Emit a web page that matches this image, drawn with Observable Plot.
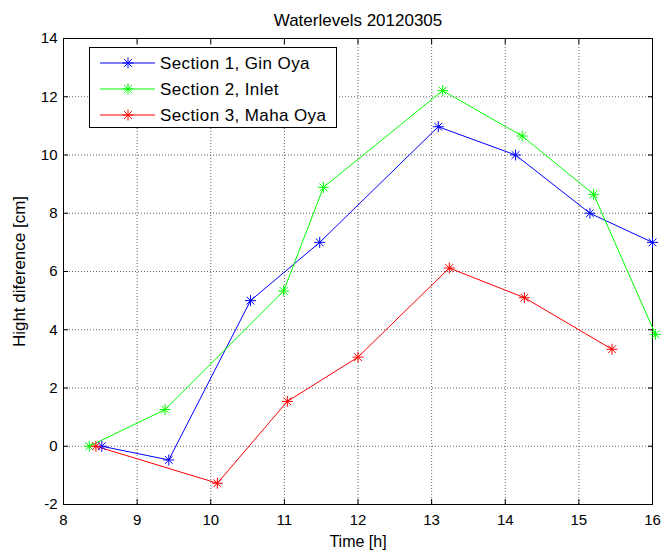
<!DOCTYPE html>
<html>
<head>
<meta charset="utf-8">
<script src="https://cdn.jsdelivr.net/npm/d3@7"></script>
<script src="https://cdn.jsdelivr.net/npm/@observablehq/plot@0.6"></script>
<style>
  html, body { margin: 0; padding: 0; background: #fff; }
  #wrap { position: relative; width: 663px; height: 551px; font-family: "Liberation Sans", Arial, sans-serif; }
  #legend { position: absolute; left: 89px; top: 47px; }
</style>
</head>
<body>
<div id="wrap"></div>
<script>
const title = "Waterlevels 20120305";
const xLabel = "Time [h]";
const yLabel = "Hight diference [cm]";
const seriesNames = ["Section 1, Gin Oya", "Section 2, Inlet", "Section 3, Maha Oya"];
const seriesColors = ["#0000ff", "#00ff00", "#ff0000"];
const xTicks = [8, 9, 10, 11, 12, 13, 14, 15, 16];
const yTicks = [-2, 0, 2, 4, 6, 8, 10, 12, 14];

const time1 = [8.52, 9.43, 10.54, 11.48, 13.09, 14.14, 15.15, 16.0];
const level1 = [0, -0.47, 5.0, 7.0, 10.97, 10.0, 8.0, 7.0];
const time2 = [8.35, 9.38, 10.99, 11.53, 13.15, 14.23, 15.2, 16.04];
const level2 = [0, 1.26, 5.33, 8.89, 12.21, 10.65, 8.65, 3.84];
const time3 = [8.44, 10.09, 11.04, 12.0, 13.24, 14.26, 15.45];
const level3 = [0, -1.27, 1.54, 3.06, 6.12, 5.1, 3.33];

const times = [time1, time2, time3];
const levels = [level1, level2, level3];
const data = seriesNames.flatMap((s, i) => times[i].map((t, j) => ({series: s, time: t, level: levels[i][j]})));

// MATLAB-style '*' marker: 8-armed asterisk
const star = {
  draw(ctx, size) {
    const r = Math.sqrt(size / Math.PI);
    for (let i = 0; i < 4; i++) {
      const a = i * Math.PI / 4;
      const dx = r * Math.cos(a), dy = r * Math.sin(a);
      ctx.moveTo(-dx, -dy);
      ctx.lineTo(dx, dy);
    }
  }
};

const font = "Liberation Sans, Arial, sans-serif";

const chart = Plot.plot({
  width: 663,
  height: 551,
  marginLeft: 63,
  marginRight: 11,
  marginTop: 38,
  marginBottom: 47,
  style: {fontFamily: font, fontSize: "15px", color: "#000", background: "#fff", overflow: "visible"},
  x: {domain: [8, 16]},
  y: {domain: [-2, 14]},
  color: {domain: seriesNames, range: seriesColors},
  marks: [
    Plot.gridX(xTicks, {stroke: "#000", strokeOpacity: 0.6, strokeDasharray: "1,2"}),
    Plot.gridY(yTicks, {stroke: "#000", strokeOpacity: 0.6, strokeDasharray: "1,2"}),
    Plot.axisX(xTicks, {anchor: "bottom", tickSize: 0, tickPadding: 10, label: null, fontSize: 15, tickFormat: d => String(d)}),
    Plot.axisY(yTicks, {anchor: "left", tickSize: 0, tickPadding: 6, label: null, fontSize: 15, tickFormat: d => String(d)}),
    Plot.axisX(xTicks, {anchor: "bottom", tickSize: -5, fill: "none", label: null}),
    Plot.axisX(xTicks, {anchor: "top", tickSize: -5, fill: "none", label: null}),
    Plot.axisY(yTicks, {anchor: "left", tickSize: -5, fill: "none", label: null}),
    Plot.axisY(yTicks, {anchor: "right", tickSize: -5, fill: "none", label: null}),
    Plot.frame({stroke: "#000"}),
    Plot.line(data, {x: "time", y: "level", z: "series", stroke: "series", strokeWidth: 1}),
    Plot.dot(data, {x: "time", y: "level", stroke: "series", symbol: star, r: 5.5, fill: "none", strokeWidth: 1}),
    Plot.text([title], {text: d => d, frameAnchor: "top", lineAnchor: "middle", textAnchor: "middle", dy: -18, fontSize: 17, fill: "#000", style: {letterSpacing: "0.5px"}}),
    Plot.text([xLabel], {text: d => d, frameAnchor: "bottom", lineAnchor: "middle", textAnchor: "middle", dy: 37, fontSize: 16, fill: "#000"}),
    Plot.text([yLabel], {text: d => d, frameAnchor: "left", lineAnchor: "middle", textAnchor: "middle", dx: -44, rotate: -90, fontSize: 17, fill: "#000"})
  ]
});

const wrap = document.getElementById("wrap");
wrap.appendChild(chart);

// Legend box (inside the axes, top-left)
const ns = "http://www.w3.org/2000/svg";
const lw = 248, lh = 81;
const leg = document.createElementNS(ns, "svg");
leg.setAttribute("id", "legend");
leg.setAttribute("width", lw);
leg.setAttribute("height", lh);
const box = document.createElementNS(ns, "rect");
box.setAttribute("x", 0.5); box.setAttribute("y", 0.5);
box.setAttribute("width", lw - 1); box.setAttribute("height", lh - 1);
box.setAttribute("fill", "#fff"); box.setAttribute("stroke", "#000");
leg.appendChild(box);
seriesNames.forEach((name, i) => {
  const cy = 16 + i * 26;
  const ln = document.createElementNS(ns, "line");
  ln.setAttribute("x1", 11); ln.setAttribute("x2", 66);
  ln.setAttribute("y1", cy); ln.setAttribute("y2", cy);
  ln.setAttribute("stroke", seriesColors[i]);
  leg.appendChild(ln);
  const mk = document.createElementNS(ns, "path");
  const p = d3.path();
  star.draw(p, 5.5 * 5.5 * Math.PI);
  mk.setAttribute("d", p.toString());
  mk.setAttribute("transform", `translate(39,${cy})`);
  mk.setAttribute("stroke", seriesColors[i]);
  mk.setAttribute("fill", "none");
  leg.appendChild(mk);
  const tx = document.createElementNS(ns, "text");
  tx.setAttribute("x", 71); tx.setAttribute("y", cy);
  tx.setAttribute("dy", "0.35em");
  tx.setAttribute("font-family", font);
  tx.setAttribute("font-size", 17);
  tx.setAttribute("letter-spacing", "0.4px");
  tx.textContent = name;
  leg.appendChild(tx);
});
wrap.appendChild(leg);
</script>
</body>
</html>
